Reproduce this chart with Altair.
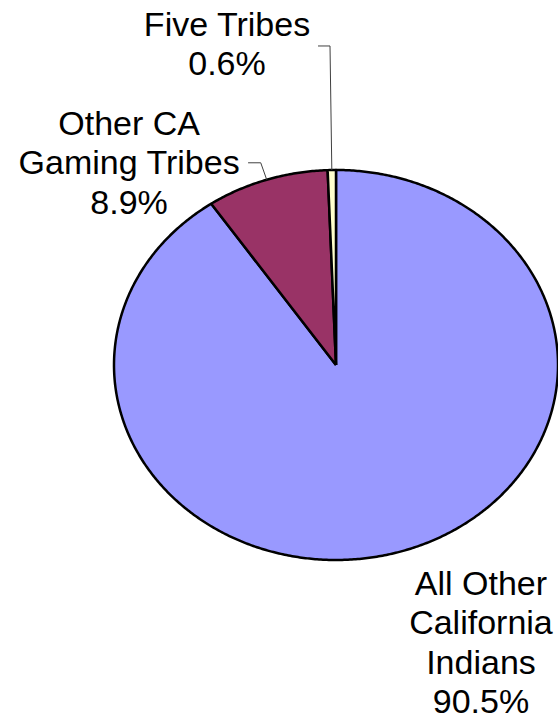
import math
import altair as alt
import pandas as pd

# ---- data ----
categories = ["All Other California Indians", "Other CA Gaming Tribes", "Five Tribes"]
values = [90.5, 8.9, 0.6]
colors = ["#9999FF", "#993366", "#FFFFCC"]
label_text = [
    "All Other\nCalifornia\nIndians\n90.5%",
    "Other CA\nGaming Tribes\n8.9%",
    "Five Tribes\n0.6%",
]

# label anchors in unit-ellipse coordinates (centre of text, top of first line)
label_x = [0.653, -0.932, -0.491]
label_y = [-1.041, 1.318, 1.826]

# leader-line bend points (unit coordinates); last point is on the slice edge
leader_bends = {
    "Other CA Gaming Tribes": [(-0.396, 1.037), (-0.339, 1.037)],
    "Five Tribes": [(-0.081, 1.636), (-0.027, 1.636)],
}

# ---- build geometry from the values (clockwise from 12 o'clock) ----
total = sum(values)
rows = []
mid_angle = {}
start = 0.0
for cat, v in zip(categories, values):
    a0 = start / total * 2 * math.pi
    a1 = (start + v) / total * 2 * math.pi
    mid_angle[cat] = (a0 + a1) / 2
    n = max(2, int(math.degrees(a1 - a0) / 0.5) + 1)
    i = 0
    rows.append({"cat": cat, "i": i, "x": 0.0, "y": 0.0})
    for k in range(n + 1):
        a = a0 + (a1 - a0) * k / n
        i += 1
        rows.append({"cat": cat, "i": i, "x": math.sin(a), "y": math.cos(a)})
    rows.append({"cat": cat, "i": i + 1, "x": 0.0, "y": 0.0})
    start += v
slice_df = pd.DataFrame(rows)

lead_rows = []
for cat, pts in leader_bends.items():
    for j, (px, py) in enumerate(pts):
        lead_rows.append({"cat": cat, "i": j, "x": px, "y": py})
    a = mid_angle[cat]
    lead_rows.append({"cat": cat, "i": len(pts), "x": math.sin(a), "y": math.cos(a)})
lead_df = pd.DataFrame(lead_rows)

label_df = pd.DataFrame({"cat": categories, "label": label_text, "x": label_x, "y": label_y})

xs = alt.Scale(domain=[-1, 1], nice=False, zero=False)
ys = alt.Scale(domain=[-1, 1], nice=False, zero=False)

slices = alt.Chart(slice_df).mark_line(
    filled=True, stroke="black", strokeWidth=2.5, strokeJoin="round"
).encode(
    x=alt.X("x:Q", scale=xs, axis=None),
    y=alt.Y("y:Q", scale=ys, axis=None),
    color=alt.Color("cat:N", scale=alt.Scale(domain=categories, range=colors), legend=None),
    detail="cat:N",
    order=alt.Order("i:Q"),
)

leaders = alt.Chart(lead_df).mark_line(color="#404040", strokeWidth=1).encode(
    x=alt.X("x:Q", scale=xs, axis=None),
    y=alt.Y("y:Q", scale=ys, axis=None),
    detail="cat:N",
    order=alt.Order("i:Q"),
)

labels = alt.Chart(label_df).mark_text(
    align="center", baseline="top", lineBreak="\n", lineHeight=39.5,
    fontSize=34, font="Liberation Sans", color="black",
).encode(
    x=alt.X("x:Q", scale=xs, axis=None),
    y=alt.Y("y:Q", scale=ys, axis=None),
    text="label:N",
)

chart = alt.layer(slices, leaders, labels).properties(
    width=444, height=390,
    autosize=alt.AutoSizeParams(type="none"),
    padding={"left": 114, "top": 170, "right": 0, "bottom": 161},
    background="white",
).configure_view(stroke=None)

chart.save("out.html", embed_options={"renderer": "svg", "actions": False})
